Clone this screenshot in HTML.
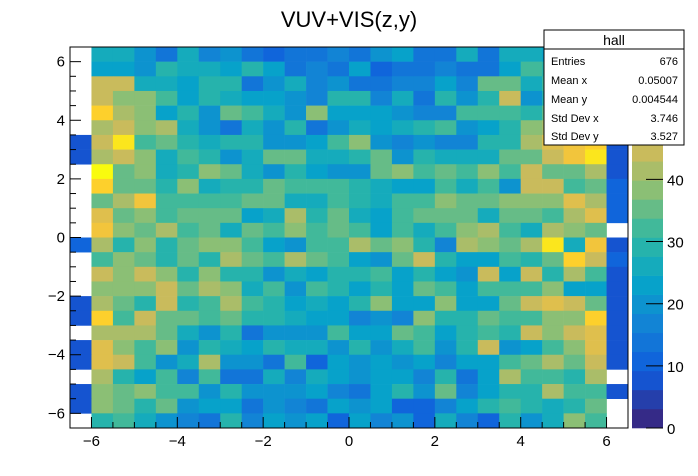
<!DOCTYPE html>
<html><head><meta charset="utf-8"><style>
body{margin:0;background:#fff;}
svg{display:block;font-family:"Liberation Sans",sans-serif;}
</style></head><body>
<svg id="chart" width="698" height="476" viewBox="0 0 698 476" xmlns="http://www.w3.org/2000/svg">
<rect width="698" height="476" fill="#fff"/>
<text x="349" y="27" font-size="22" text-anchor="middle">VUV+VIS(z,y)</text>
<g id="cells"></g>
<g id="axes"></g>
<g id="cbar"></g>
<g>
<rect x="544" y="30" width="140" height="115" fill="#fff" stroke="#000" stroke-width="1"/>
<line x1="544" y1="49" x2="684" y2="49" stroke="#000"/>
<text x="614" y="45" font-size="14" text-anchor="middle">hall</text>
<text x="551" y="65" font-size="11">Entries</text><text x="678" y="65" font-size="11" text-anchor="end">676</text>
<text x="551" y="84" font-size="11">Mean x</text><text x="678" y="84" font-size="11" text-anchor="end">0.05007</text>
<text x="551" y="103" font-size="11">Mean y</text><text x="678" y="103" font-size="11" text-anchor="end">0.004544</text>
<text x="551" y="122" font-size="11">Std Dev x</text><text x="678" y="122" font-size="11" text-anchor="end">3.746</text>
<text x="551" y="140" font-size="11">Std Dev y</text><text x="678" y="140" font-size="11" text-anchor="end">3.527</text>
</g>
</svg>
<script>
// bin edges
const xMin = -6.5, xMax = 6.5, yMin = -6.5, yMax = 6.5, binW = 0.5;
const xTicks = [-6, -4, -2, 0, 2, 4, 6];
const yTicks = [-6, -4, -2, 0, 2, 4, 6];
const zTicks = [0, 10, 20, 30, 40];
const zMax = 61.3;
// rows from top (y=6.5) to bottom, 26 columns from x=-6.5
const counts = [
[0,26,26,20,15,26,17,20,14,10,14,14,17,14,20,24,15,15,26,14,26,26,24,24,26,8],
[0,23,23,20,29,26,26,22,29,22,14,17,14,24,11,15,15,18,15,15,22,32,29,29,32,8],
[0,45,45,26,26,23,29,29,14,19,26,17,20,15,15,18,18,22,18,36,36,26,32,36,39,8],
[0,45,39,39,32,24,29,25,22,22,19,17,29,29,18,25,14,29,20,29,45,20,29,36,42,8],
[0,55,42,39,22,29,21,36,32,26,19,39,22,22,22,20,18,18,32,32,32,29,36,42,45,8],
[0,42,45,39,42,25,19,15,26,19,29,14,20,25,22,25,29,32,20,24,29,39,42,48,51,8],
[8,45,58,32,36,29,26,29,29,20,20,22,32,39,21,18,20,18,18,29,29,42,48,51,55,8],
[8,42,45,39,25,32,29,21,26,36,36,26,26,29,36,19,29,26,26,26,36,36,45,51,58,8],
[0,61,36,39,25,29,39,36,25,20,29,22,19,20,36,39,32,36,32,39,32,45,36,36,42,8],
[0,55,36,36,29,39,26,29,29,36,32,32,32,29,26,22,22,32,26,32,19,45,45,32,36,10],
[0,36,42,51,32,32,32,32,36,36,25,25,32,29,26,32,32,39,36,36,39,39,39,48,42,10],
[0,48,36,39,32,36,36,36,22,26,42,29,36,26,23,32,36,36,36,26,36,36,32,42,48,10],
[0,51,39,36,42,32,36,26,36,32,39,32,36,32,23,32,26,32,39,42,32,26,42,39,36,0],
[10,42,29,39,29,36,39,39,32,22,20,32,32,42,36,39,29,16,42,39,36,42,58,26,51,8],
[0,32,39,36,29,36,29,42,36,32,42,36,32,22,20,36,45,29,22,24,32,29,36,55,45,10],
[0,45,39,45,39,29,39,29,29,20,26,22,29,29,32,22,29,22,19,45,24,45,29,42,32,8],
[0,39,39,39,45,36,42,39,26,32,21,32,29,24,29,24,36,32,22,32,32,32,39,22,24,8],
[8,42,36,29,45,29,32,42,32,29,22,26,24,29,39,22,24,39,24,24,36,45,48,45,36,8],
[8,55,32,45,36,36,32,36,29,29,25,22,24,16,19,16,39,29,29,36,32,32,39,39,55,8],
[0,42,42,42,36,25,20,29,15,19,21,21,32,24,24,36,32,24,29,32,29,45,39,45,48,8],
[8,48,39,32,39,21,29,25,23,29,26,26,20,29,19,25,32,19,29,45,19,24,32,39,48,8],
[8,48,45,32,20,25,42,20,20,15,32,12,22,20,24,19,22,16,22,22,32,36,42,36,45,8],
[0,42,29,22,32,16,32,15,15,25,18,25,22,20,22,24,16,29,14,22,42,32,32,29,42,0],
[8,39,36,39,32,32,21,29,20,20,20,22,16,14,22,29,20,36,16,24,29,29,42,32,32,8],
[8,39,36,29,36,19,22,22,14,21,18,14,22,20,22,12,12,16,22,29,32,29,26,29,36,0],
[0,29,32,26,20,16,14,29,17,22,20,22,12,22,17,20,12,26,16,12,29,20,26,39,32,0]
];
const PL={x0:70,x1:628,y0:47,y1:428};
const xs=v=>PL.x0+(v-xMin)/(xMax-xMin)*(PL.x1-PL.x0);
const ys=v=>PL.y0+(yMax-v)/(yMax-yMin)*(PL.y1-PL.y0);
const NS="http://www.w3.org/2000/svg";
const st=[0,.125,.25,.375,.5,.625,.75,.875,1];
const R=[0.2082,0.0592,0.0780,0.0232,0.1802,0.5301,0.8186,0.9956,0.9764];
const G=[0.1664,0.3599,0.5041,0.6419,0.7178,0.7492,0.7328,0.7862,0.9832];
const B=[0.5293,0.8684,0.8385,0.7914,0.6425,0.4662,0.3499,0.1968,0.0539];
function pal(t){let i=0;while(i<7&&t>st[i+1])i++;const f=(t-st[i])/(st[i+1]-st[i]);
const c=a=>Math.round(255*(a[i]+(a[i+1]-a[i])*f));return `rgb(${c(R)},${c(G)},${c(B)})`;}
const NB=20;
function bandColor(b){return pal(b/(NB-1));}
function colorOf(v){let b=Math.floor(v/zMax*NB);if(b>NB-1)b=NB-1;return bandColor(b);}
function mk(tag,attrs,parent){const e=document.createElementNS(NS,tag);for(const k in attrs)e.setAttribute(k,attrs[k]);parent.appendChild(e);return e;}
const cells=document.getElementById('cells');
counts.forEach((row,r)=>row.forEach((v,c)=>{
 if(v<=0)return;
 const xa=xs(xMin+c*binW),xb=xs(xMin+(c+1)*binW),ya=ys(yMax-r*binW),yb=ys(yMax-(r+1)*binW);
 const e=mk('rect',{x:xa,y:ya,width:xb-xa+0.3,height:yb-ya+0.3,fill:colorOf(v)},cells);
 
 
}));
const ax=document.getElementById('axes');
mk('rect',{x:PL.x0,y:PL.y0,width:PL.x1-PL.x0,height:PL.y1-PL.y0,fill:'none',stroke:'#000','stroke-width':1},ax);
for(let v=-6.5;v<=6.5001;v+=0.5){
 const major=Math.abs(v%2)<1e-6;const L=major?11:6;
 const x=xs(v);mk('line',{x1:x,x2:x,y1:PL.y1,y2:PL.y1-L,stroke:'#000'},ax);
 const y=ys(v);mk('line',{x1:PL.x0,x2:PL.x0+L,y1:y,y2:y,stroke:'#000'},ax);
}
xTicks.forEach(v=>{const t=mk('text',{x:xs(v),y:446,'font-size':15,'text-anchor':'middle'},ax);t.textContent=(v<0?'\u2212':'')+Math.abs(v);
 
 });
yTicks.forEach(v=>{const t=mk('text',{x:65,y:ys(v)+5,'font-size':15,'text-anchor':'end'},ax);t.textContent=(v<0?'\u2212':'')+Math.abs(v);
 
 });
const cb=document.getElementById('cbar');
const CB={x0:632,x1:663,y0:47,y1:428};
for(let b=0;b<NB;b++){const ya=CB.y1-(b+1)/NB*(CB.y1-CB.y0),yb=CB.y1-b/NB*(CB.y1-CB.y0);
 const e=mk('rect',{x:CB.x0,y:ya,width:CB.x1-CB.x0,height:yb-ya+0.3,fill:bandColor(b)},cb);
 
 }
zTicks.forEach(v=>{const y=CB.y1-v/zMax*(CB.y1-CB.y0);
 mk('line',{x1:CB.x1-17,x2:CB.x1,y1:y,y2:y,stroke:'#000'},cb);
 const t=mk('text',{x:667,y:y+6,'font-size':15},cb);t.textContent=v;
 
 });
</script>
</body></html>
